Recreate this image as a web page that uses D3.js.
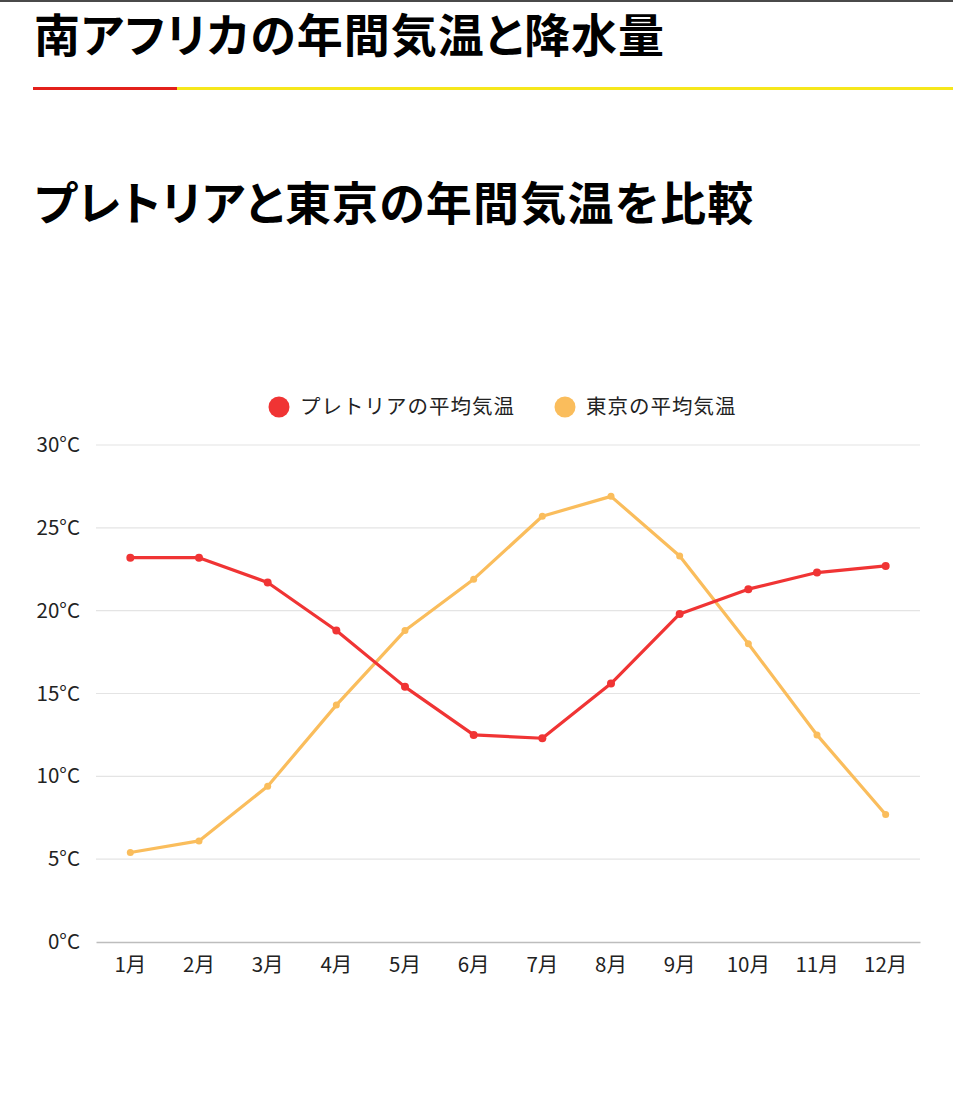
<!DOCTYPE html>
<html lang="ja">
<head>
<meta charset="utf-8">
<script src="https://cdn.jsdelivr.net/npm/d3@7"></script>
<style>
  html, body { margin: 0; padding: 0; background: #fff; }
  body { width: 953px; height: 1095px; overflow: hidden; font-family: "Noto Sans CJK JP", "Noto Sans", sans-serif; color: #000; }
  #topline { position: absolute; left: 0; top: 0; width: 953px; height: 2px; background: #4a4a4a; }
  h1, h2 { position: absolute; left: 34px; margin: 0; font-size: 46px; font-weight: 700; letter-spacing: 1px; line-height: 60px; font-feature-settings: "palt"; }
  h1 { top: 2px; }
  h2 { top: 170px; letter-spacing: 1.2px; }
  #bar { position: absolute; left: 33px; top: 87px; width: 920px; height: 3px; background: #f6e71b; }
  #bar div { width: 144px; height: 3px; background: #e3201b; }
  #chart { position: absolute; left: 0; top: 0; }
</style>
</head>
<body>
<div id="topline"></div>
<h1>南アフリカの年間気温と降水量</h1>
<div id="bar"><div></div></div>
<h2>プレトリアと東京の年間気温を比較</h2>
<div id="chart"></div>
<script>
// months and temperature series
const months = ["1月", "2月", "3月", "4月", "5月", "6月", "7月", "8月", "9月", "10月", "11月", "12月"];
const pretoria = [23.2, 23.2, 21.7, 18.8, 15.4, 12.5, 12.3, 15.6, 19.8, 21.3, 22.3, 22.7];
const tokyo = [5.4, 6.1, 9.4, 14.3, 18.8, 21.9, 25.7, 26.9, 23.3, 18.0, 12.5, 7.7];
const yTicks = [0, 5, 10, 15, 20, 25, 30];
const seriesNames = ["プレトリアの平均気温", "東京の平均気温"];
const seriesColors = ["#f03434", "#fabd5c"];

const fontJP = "'Noto Sans CJK JP', sans-serif";

let margin = {top: 445, left: 96, right: 33},
    width = 953 - margin.left - margin.right,
    height = 942 - margin.top;

let svg = d3.select("#chart").append("svg")
    .attr("width", 953)
    .attr("height", 1095)
    .style("font-family", fontJP);

let g = svg.append("g").attr("transform", "translate(" + margin.left + "," + margin.top + ")");

let xScale = d3.scaleBand()
    .domain(months)
    .range([0, width]);

let yScale = d3.scaleLinear()
    .domain([0, 30])
    .range([height, 0]);

//gridlines
g.append("g")
    .selectAll("line")
    .data(yTicks.filter(d => d > 0))
    .enter().append("line")
    .attr("x1", 0)
    .attr("x2", width)
    .attr("y1", d => yScale(d))
    .attr("y2", d => yScale(d))
    .attr("stroke", "#e4e4e4")
    .attr("stroke-width", 1.2);

//y axis labels
let yAxis = g.append("g")
    .call(d3.axisLeft(yScale).tickValues(yTicks).tickSize(0).tickPadding(16).tickFormat(d => d + "°C"))
    .attr("font-family", fontJP);
yAxis.select(".domain").remove();
yAxis.selectAll("text")
    .attr("fill", "#222")
    .style("font-size", "20.5px");

//x axis
let xAxis = g.append("g")
    .attr("transform", "translate(0," + height + ")")
    .call(d3.axisBottom(xScale).tickSize(0).tickPadding(15))
    .attr("font-family", fontJP);
xAxis.select(".domain").attr("stroke", "#bdbdbd").attr("stroke-width", 1.5);
xAxis.selectAll("text")
    .attr("fill", "#222")
    .style("font-size", "20.5px");

let line = d3.line()
    .x((d, i) => xScale(months[i]) + xScale.bandwidth() / 2)
    .y(d => yScale(d));

[tokyo, pretoria].forEach((values) => {
    let color = values === pretoria ? seriesColors[0] : seriesColors[1];
    let r = values === pretoria ? 4 : 3.5;

    g.append("path")
        .datum(values)
        .attr("fill", "none")
        .attr("stroke", color)
        .attr("stroke-width", 3.2)
        .attr("stroke-linejoin", "round")
        .attr("d", line);

    g.selectAll(null)
        .data(values)
        .enter().append("circle")
        .attr("fill", color)
        .attr("r", r)
        .attr("cx", (d, i) => xScale(months[i]) + xScale.bandwidth() / 2)
        .attr("cy", d => yScale(d));
});

//legend
let legendX = [279, 565];
let legend = svg.append("g");
seriesNames.forEach((name, i) => {
    legend.append("circle")
        .attr("cx", legendX[i])
        .attr("cy", 407)
        .attr("r", 10.5)
        .attr("fill", seriesColors[i]);
    legend.append("text")
        .attr("x", legendX[i] + 21)
        .attr("y", 407)
        .attr("dy", "0.36em")
        .attr("fill", "#222")
        .style("font-size", "20.5px")
        .style("letter-spacing", "1px")
        .text(name);
});
</script>
</body>
</html>
